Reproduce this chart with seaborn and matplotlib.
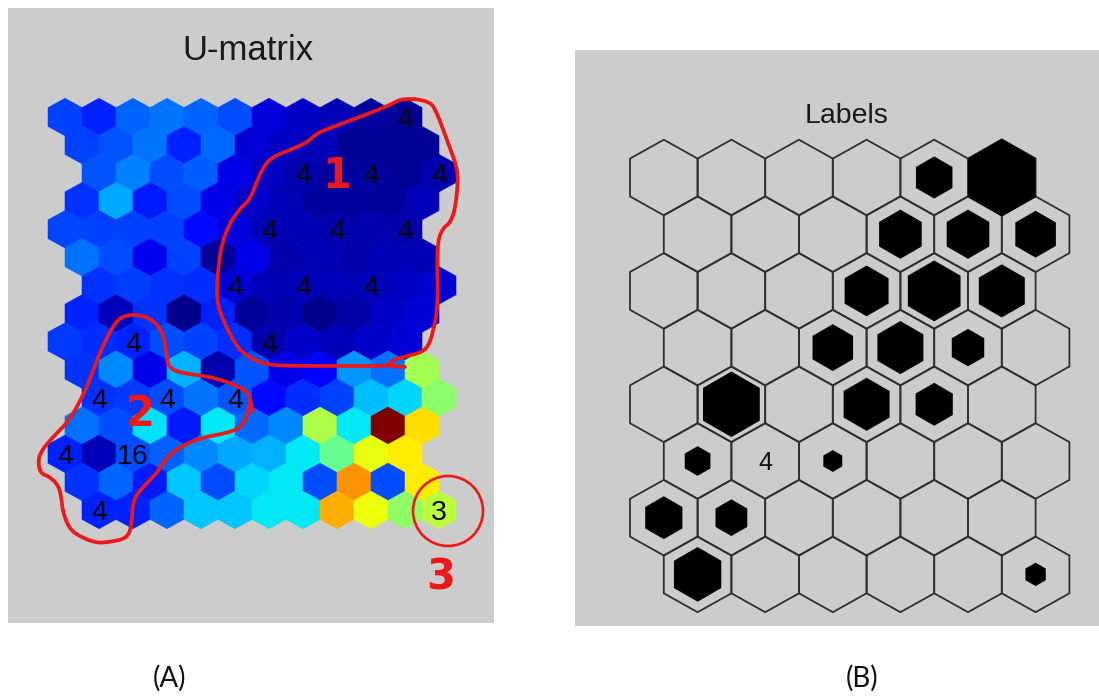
import numpy as np
import matplotlib
matplotlib.use("Agg")
import matplotlib.pyplot as plt
from matplotlib.collections import PolyCollection
from matplotlib.patches import Circle
import seaborn as sns

# ---------------------------------------------------------------------------
# Data
# ---------------------------------------------------------------------------
# U-matrix of an 8 x 6 hexagonal SOM (15 x 11 cells, 'hexaU' lattice),
# values on a 0..1 scale shown with the jet colormap.
umatrix = [
    [0.19, 0.16, 0.225, 0.24, 0.225, 0.20, 0.08, 0.06, 0.05, 0.03, 0.02],
    [0.19, 0.21, 0.24, 0.16, 0.23, 0.075, 0.06, 0.05, 0.02, 0.02, 0.02],
    [0.21, 0.25, 0.20, 0.215, 0.09, 0.06, 0.04, 0.03, 0.03, 0.02, 0.04],
    [0.175, 0.29, 0.15, 0.20, 0.09, 0.065, 0.05, 0.03, 0.03, 0.025, 0.05],
    [0.195, 0.19, 0.19, 0.19, 0.135, 0.08, 0.05, 0.05, 0.04, 0.045, 0.04],
    [0.235, 0.20, 0.10, 0.19, 0.02, 0.09, 0.04, 0.05, 0.04, 0.05, 0.05],
    [0.175, 0.185, 0.175, 0.17, 0.075, 0.05, 0.05, 0.05, 0.05, 0.06, 0.075],
    [0.16, 0.05, 0.175, 0.015, 0.16, 0.025, 0.04, 0.015, 0.035, 0.065, 0.075],
    [0.18, 0.17, 0.16, 0.20, 0.19, 0.17, 0.04, 0.065, 0.05, 0.065, 0.075],
    [0.175, 0.26, 0.09, 0.30, 0.04, 0.21, 0.09, 0.11, 0.27, 0.235, 0.55],
    [0.175, 0.18, 0.20, 0.24, 0.21, 0.135, 0.17, 0.19, 0.31, 0.335, 0.52],
    [0.235, 0.20, 0.345, 0.15, 0.355, 0.23, 0.26, 0.56, 0.355, 1.00, 0.675],
    [0.16, 0.05, 0.20, 0.22, 0.26, 0.29, 0.30, 0.355, 0.475, 0.63, 0.66],
    [0.175, 0.225, 0.15, 0.32, 0.20, 0.335, 0.355, 0.20, 0.75, 0.20, 0.66],
    [0.16, 0.16, 0.225, 0.32, 0.32, 0.355, 0.355, 0.725, 0.64, 0.525, 0.575],
]

# Map-unit labels written on the U-matrix (map row, map column, text)
umat_label_rows = [0, 1, 1, 1, 2, 2, 2, 3, 3, 3, 4, 4, 5, 5, 5, 6, 6, 7, 7]
umat_label_cols = [5, 3, 4, 5, 3, 4, 5, 2, 3, 4, 1, 3, 0, 1, 2, 0, 1, 0, 5]
umat_label_text = ["4", "4", "4", "4", "4", "4", "4", "4", "4", "4",
                   "4", "4", "4", "4", "4", "4", "16", "4", "3"]

# Label map: 8 x 6 hexagonal map units
map_rows, map_cols = 8, 6

# Hit markers (map row, map column, relative marker width)
hit_rows = [0, 0, 1, 1, 1, 2, 2, 2, 3, 3, 3, 4, 4, 4, 5, 5, 6, 6, 7, 7]
hit_cols = [4, 5, 3, 4, 5, 3, 4, 5, 2, 3, 4, 1, 3, 4, 0, 2, 0, 1, 0, 5]
hit_size = [0.54, 1.00, 0.63, 0.63, 0.60, 0.65, 0.78, 0.68, 0.60, 0.68,
            0.48, 0.84, 0.68, 0.55, 0.38, 0.28, 0.55, 0.47, 0.70, 0.30]

# Text labels on the label map
map_label_rows = [5]
map_label_cols = [1]
map_label_text = ["4"]

# Hand-drawn cluster outlines (sketch layer, pixel units)
cluster1_x = [403, 430, 437, 447, 457, 458, 455, 450, 443, 438, 437, 438, 437,
              435, 430, 423, 407, 393, 389, 360, 300, 267, 250, 240, 233, 223,
              217, 217, 220, 227, 240, 250, 260, 270, 290, 308, 317, 333, 360,
              390, 403]
cluster1_y = [98, 101, 113, 140, 167, 183, 210, 223, 228, 240, 263, 290, 310,
              323, 343, 352, 356, 360, 366, 366, 366, 365, 358, 350, 340, 320,
              302, 282, 252, 228, 208, 200, 173, 158, 150, 142, 133, 127, 117,
              105, 98]
cluster1_tail_x = [389, 405]
cluster1_tail_y = [366, 367]

cluster2_x = [117, 127, 140, 153, 163, 166, 168, 180, 213, 240, 248, 250, 247,
              240, 227, 200, 180, 167, 157, 143, 133, 132, 128, 110, 97, 83,
              70, 63, 61, 58, 50, 40, 38, 42, 53, 67, 77, 87, 97, 107, 117]
cluster2_y = [320, 315, 315, 320, 333, 350, 367, 373, 377, 387, 393, 400, 417,
              428, 433, 438, 447, 457, 473, 487, 500, 522, 538, 542, 543, 538,
              530, 513, 495, 485, 477, 473, 460, 450, 437, 423, 407, 387, 360,
              337, 320]
cluster2_tail_x = [250, 253]
cluster2_tail_y = [400, 412]

cluster3_center = (448, 511)
cluster3_radius = 35

cluster_names = ["1", "2", "3"]
cluster_name_x = [337, 140, 441]
cluster_name_y = [172, 409, 573]

# ---------------------------------------------------------------------------
# Style
# ---------------------------------------------------------------------------
sns.set_theme(style="white")
plt.rcParams["font.family"] = ["Liberation Sans", "DejaVu Sans"]

W, H = 1099, 696
fig = plt.figure(figsize=(W / 100, H / 100), dpi=100)
fig.patch.set_facecolor("white")

PANEL = "#cccccc"
RED = "#ee1818"
jet = matplotlib.colormaps["jet"]


def fig_rect(x0, y0, x1, y1):
    return [x0 / W, 1 - y1 / H, (x1 - x0) / W, (y1 - y0) / H]


def hexagon(cx, cy):
    # pointy-top hexagon, unit column spacing, unit row spacing
    return [(cx, cy - 2 / 3), (cx + 0.5, cy - 1 / 3), (cx + 0.5, cy + 1 / 3),
            (cx, cy + 2 / 3), (cx - 0.5, cy + 1 / 3), (cx - 0.5, cy - 1 / 3)]


def smooth_closed(xs, ys, n_iter=3):
    pts = np.column_stack([xs, ys]).astype(float)[:-1]
    for _ in range(n_iter):
        nxt = np.roll(pts, -1, axis=0)
        q = 0.75 * pts + 0.25 * nxt
        r = 0.25 * pts + 0.75 * nxt
        pts = np.empty((2 * len(q), 2))
        pts[0::2] = q
        pts[1::2] = r
    pts = np.vstack([pts, pts[:1]])
    return pts[:, 0], pts[:, 1]


# ---------------------------------------------------------------------------
# (A) U-matrix
# ---------------------------------------------------------------------------
ax_u = fig.add_axes(fig_rect(8, 8, 494, 623))
ux0, ucw, uy0, urh = 65.0, 34.0, 117.0, 28.07   # cell (0,0) centre and pitch
ax_u.set_xlim((8 - ux0) / ucw, (494 - ux0) / ucw)
ax_u.set_ylim((623 - uy0) / urh, (8 - uy0) / urh)
ax_u.set_facecolor(PANEL)
ax_u.set_axis_off()
ax_u.add_patch(plt.Rectangle((0, 0), 1, 1, transform=ax_u.transAxes,
                             color=PANEL, zorder=0))

u = np.asarray(umatrix)
row_shift = [0.0, 0.5, 1.0, 0.5]
polys, vals = [], []
for r in range(u.shape[0]):
    for c in range(u.shape[1]):
        polys.append(hexagon(c + row_shift[r % 4], r))
        vals.append(u[r, c])
cols = jet(np.asarray(vals))
ax_u.add_collection(PolyCollection(polys, facecolors=cols, edgecolors=cols,
                                   linewidths=0.4, zorder=2))

for mr, mc, t in zip(umat_label_rows, umat_label_cols, umat_label_text):
    ur, uc = 2 * mr, 2 * mc
    ax_u.text(uc + row_shift[ur % 4], ur, t, ha="center", va="center_baseline",
              fontsize=20.5, color="#03030a", zorder=3)

ax_u.text(0.494, 1 - (60 - 8) / 615, "U-matrix", transform=ax_u.transAxes,
          ha="center", va="baseline", fontsize=25, color="#1a1a1a")

# ---------------------------------------------------------------------------
# (B) Labels map
# ---------------------------------------------------------------------------
ax_l = fig.add_axes(fig_rect(575, 50, 1099, 626))
lx0, lcw, ly0, lrh = 663.8, 67.6, 177.5, 56.7
ax_l.set_facecolor(PANEL)
ax_l.add_patch(plt.Rectangle((0, 0), 1, 1, transform=ax_l.transAxes,
                             color=PANEL, zorder=0))

cells = [hexagon(c + 0.5 * (r % 2), r)
         for r in range(map_rows) for c in range(map_cols)]
ax_l.add_collection(PolyCollection(cells, facecolors="none",
                                   edgecolors="#303030", linewidths=1.3,
                                   zorder=2))

hx = [c + 0.5 * (r % 2) for r, c in zip(hit_rows, hit_cols)]
hy = list(hit_rows)
# marker 'h' size: vertex-to-vertex height in points
size_pt = [f * lcw * 72 / fig.dpi / (np.sqrt(3) / 2) for f in hit_size]
sns.scatterplot(x=hx, y=hy, s=[p ** 2 for p in size_pt], marker="h",
                color="black", linewidth=0, legend=False, ax=ax_l, zorder=3)
ax_l.set_xlim((575 - lx0) / lcw, (1099 - lx0) / lcw)
ax_l.set_ylim((626 - ly0) / lrh, (50 - ly0) / lrh)
ax_l.set_axis_off()

for r, c, t in zip(map_label_rows, map_label_cols, map_label_text):
    ax_l.text(c + 0.5 * (r % 2), r, t, ha="center", va="center_baseline",
              fontsize=18, color="#111111", zorder=4)

ax_l.text((847 - 575) / 524, 1 - (123 - 50) / 576, "Labels",
          transform=ax_l.transAxes, ha="center", va="baseline",
          fontsize=20.5, color="#1a1a1a")

# ---------------------------------------------------------------------------
# Sketch layer: cluster outlines and names
# ---------------------------------------------------------------------------
ax_s = fig.add_axes([0, 0, 1, 1])
ax_s.set_xlim(0, W)
ax_s.set_ylim(H, 0)
ax_s.set_axis_off()
ax_s.patch.set_alpha(0)

for xs, ys in [(cluster1_x, cluster1_y), (cluster2_x, cluster2_y)]:
    sx, sy = smooth_closed(xs, ys)
    ax_s.plot(sx, sy, color=RED, lw=2.7, solid_joinstyle="round",
              solid_capstyle="round")
for xs, ys in [(cluster1_tail_x, cluster1_tail_y),
               (cluster2_tail_x, cluster2_tail_y)]:
    ax_s.plot(xs, ys, color=RED, lw=2.7, solid_capstyle="round")
ax_s.add_patch(Circle(cluster3_center, cluster3_radius, fill=False,
                      ec=RED, lw=1.9))

for t, x, y in zip(cluster_names, cluster_name_x, cluster_name_y):
    ax_s.text(x, y, t, ha="center", va="center_baseline", fontsize=30,
              fontweight="bold", color=RED, family=["DejaVu Sans"])

# Panel captions
fig.text(170 / W, 1 - 678 / H, "(A)", ha="center", va="center",
         fontsize=20, color="#111111", family=["Lato", "DejaVu Sans"])
fig.text(862 / W, 1 - 678 / H, "(B)", ha="center", va="center",
         fontsize=20, color="#111111", family=["Lato", "DejaVu Sans"])

fig.savefig("out.png", dpi=100, facecolor="white")
